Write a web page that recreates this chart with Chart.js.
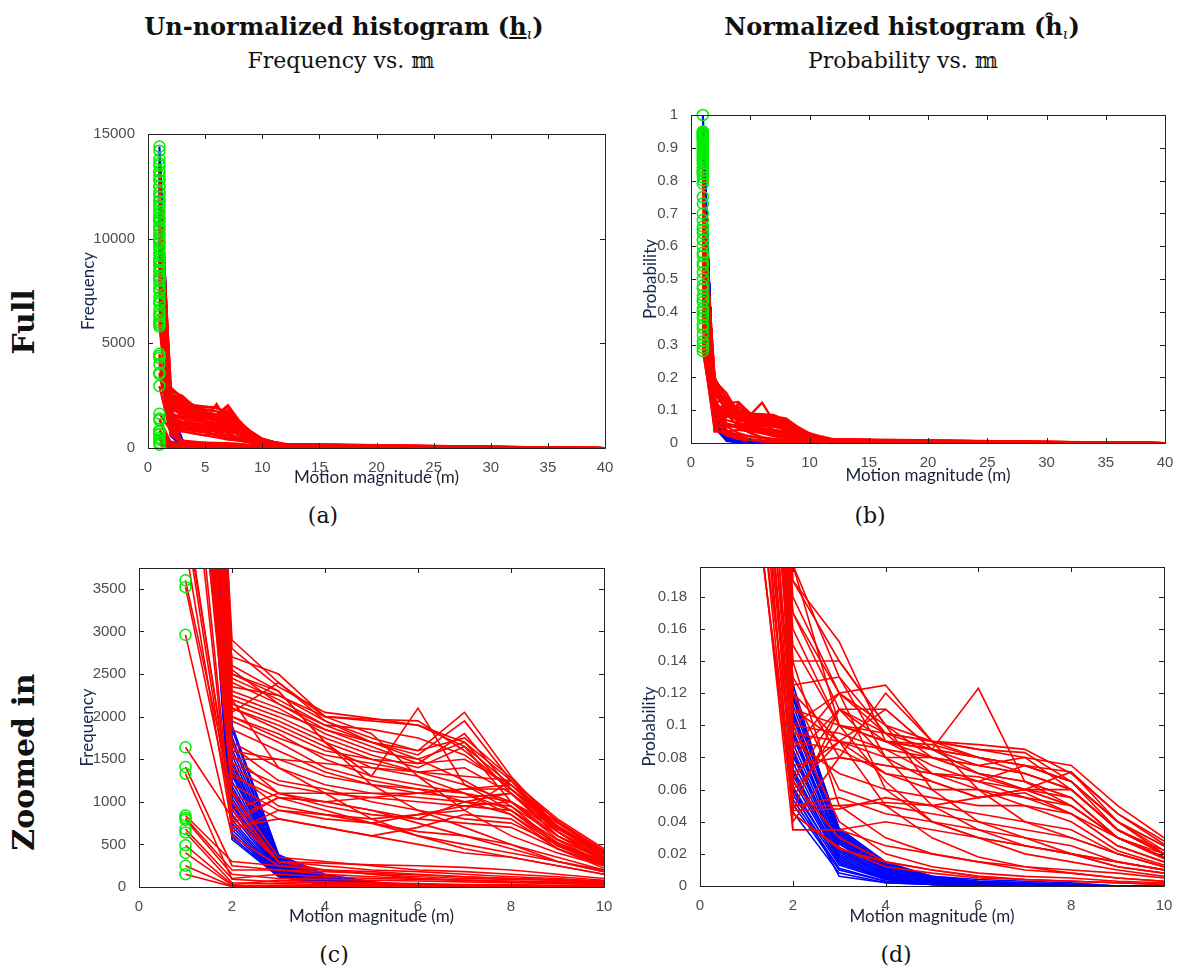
<!DOCTYPE html>
<html>
<head>
<meta charset="utf-8">
<script src="https://cdn.jsdelivr.net/npm/chart.js@4.4.1/dist/chart.umd.min.js"></script>
<style>
  body { margin: 0; background: #fff; }
  #page { position: relative; width: 1179px; height: 973px; overflow: hidden; background: #fff; }
  .lbl { position: absolute; transform: translate(-50%, -50%); white-space: nowrap;
         font-family: "DejaVu Serif", serif; color: #111; line-height: 1; }
  .head { font-weight: bold; font-size: 24px; }
  .head sub { font-size: 0.6em; vertical-align: -0.3em; line-height: 0; font-weight: normal; font-style: italic; }
  .sub { font-size: 22px; }
  .cap { font-size: 22px; }
  .row { font-weight: bold; font-size: 30px; transform: translate(-50%, -50%) rotate(-90deg); }
  canvas { position: absolute; }
</style>
</head>
<body>
<div id="page">
  <div class="lbl head" style="left:344px; top:27px">Un-normalized histogram (<u>h</u><sub>ι</sub>)</div>
  <div class="lbl sub" style="left:341px; top:61px">Frequency vs. 𝕞</div>
  <div class="lbl head" style="left:902px; top:27px">Normalized histogram (ĥ<sub>ι</sub>)</div>
  <div class="lbl sub" style="left:903px; top:61px">Probability vs. 𝕞</div>
  <div class="lbl row" style="left:24px; top:322px">Full</div>
  <div class="lbl row" style="left:24px; top:762px">Zoomed in</div>
  <div class="lbl cap" style="left:323px; top:516px">(a)</div>
  <div class="lbl cap" style="left:870px; top:516px">(b)</div>
  <div class="lbl cap" style="left:334px; top:955px">(c)</div>
  <div class="lbl cap" style="left:896px; top:955px">(d)</div>
  <canvas id="chartA"></canvas>
  <canvas id="chartB"></canvas>
  <canvas id="chartC"></canvas>
  <canvas id="chartD"></canvas>
</div>
<script>
// histogram bins (motion magnitude); last bin closes the tail at zero
const bins = [1, 2, 3, 4, 5, 6, 7, 8, 9, 10, 11, 12, 40];

// tick values for each axis
const magTicksFull = [0, 5, 10, 15, 20, 25, 30, 35, 40];
const magTicksZoom = [0, 2, 4, 6, 8, 10];
const freqTicksFull = [0, 5000, 10000, 15000];
const freqTicksZoom = [0, 500, 1000, 1500, 2000, 2500, 3000, 3500];
const probTicksFull = [0, 0.1, 0.2, 0.3, 0.4, 0.5, 0.6, 0.7, 0.8, 0.9, 1];
const probTicksZoom = [0, 0.02, 0.04, 0.06, 0.08, 0.1, 0.12, 0.14, 0.16, 0.18];

// un-normalized histograms, one row per video
const freqRed = [
  [13200, 2800, 2350, 2050, 1980, 1900, 1650, 1200, 780, 430, 290, 190, 0],
  [12800, 2900, 2400, 2000, 1950, 1900, 1700, 1250, 800, 450, 300, 200, 0],
  [12500, 2550, 2150, 1900, 1850, 1750, 1550, 1150, 720, 400, 270, 170, 0],
  [12200, 2600, 2300, 1700, 1300, 2100, 1200, 1000, 700, 420, 280, 180, 0],
  [11800, 2500, 2250, 1950, 1750, 1600, 2050, 1300, 700, 400, 260, 160, 0],
  [11600, 2250, 2050, 1850, 1700, 1600, 1750, 1280, 760, 420, 260, 160, 0],
  [11300, 2450, 2200, 1900, 1700, 1550, 1950, 1250, 680, 380, 250, 150, 0],
  [11000, 2350, 2250, 2000, 1970, 1950, 1600, 1150, 700, 400, 250, 150, 0],
  [10900, 2400, 2150, 1850, 1650, 1450, 1800, 1150, 650, 360, 240, 140, 0],
  [10600, 2300, 2100, 1800, 1600, 1500, 1700, 1100, 600, 340, 220, 130, 0],
  [10400, 2100, 1850, 1600, 1500, 1450, 1500, 1200, 700, 380, 230, 140, 0],
  [10200, 2200, 2000, 1750, 1550, 1400, 1650, 1000, 560, 320, 200, 120, 0],
  [9900, 2150, 1950, 1700, 1500, 1350, 1200, 900, 520, 300, 190, 110, 0],
  [9800, 2000, 1750, 1550, 1450, 1350, 1400, 1100, 650, 350, 210, 130, 0],
  [9600, 2100, 1900, 1650, 1400, 1300, 1100, 850, 500, 280, 180, 100, 0],
  [9300, 2050, 2400, 1950, 1700, 1500, 1250, 950, 600, 350, 220, 140, 0],
  [9000, 2000, 1800, 1500, 1300, 1200, 1100, 900, 480, 260, 170, 100, 0],
  [8900, 1850, 1600, 1350, 1200, 1100, 1150, 1150, 750, 400, 240, 130, 0],
  [8700, 1950, 1700, 1400, 1250, 1150, 1000, 850, 450, 250, 160, 90, 0],
  [8400, 1600, 1500, 1450, 1400, 1350, 1300, 1250, 700, 330, 210, 120, 0],
  [8200, 1700, 1400, 1200, 1100, 1050, 1000, 1100, 700, 380, 220, 120, 0],
  [8100, 1500, 1500, 1300, 1200, 1150, 1100, 1000, 650, 300, 200, 110, 0],
  [7800, 1450, 1200, 1100, 1100, 1100, 1050, 1100, 600, 300, 190, 100, 0],
  [7600, 1650, 1250, 1150, 1000, 900, 800, 750, 500, 300, 180, 100, 0],
  [7500, 1400, 1100, 1100, 1050, 1000, 950, 900, 550, 280, 170, 90, 0],
  [7200, 1300, 1050, 1000, 900, 800, 1000, 950, 500, 260, 160, 80, 0],
  [7000, 1550, 1100, 950, 850, 800, 750, 700, 450, 260, 160, 90, 0],
  [6900, 1200, 900, 800, 750, 850, 900, 1250, 650, 300, 180, 90, 0],
  [6600, 1100, 800, 700, 600, 700, 850, 800, 450, 220, 140, 70, 0],
  [6400, 1350, 950, 850, 750, 650, 600, 500, 350, 200, 120, 60, 0],
  [6300, 2700, 2500, 2000, 1800, 1300, 900, 600, 400, 250, 160, 90, 0],
  [6100, 750, 1050, 1000, 1050, 1100, 1150, 1200, 700, 350, 210, 110, 0],
  [6000, 2500, 2300, 1700, 1200, 900, 700, 500, 300, 180, 120, 60, 0],
  [5900, 2200, 1400, 1100, 800, 600, 450, 350, 250, 150, 100, 50, 0],
  [5800, 650, 900, 850, 800, 850, 950, 1000, 600, 330, 200, 100, 0],
  [4500, 900, 1100, 1000, 900, 750, 600, 450, 300, 200, 120, 60, 0],
  [4400, 1000, 300, 280, 260, 250, 230, 200, 150, 100, 60, 30, 0],
  [4300, 800, 1050, 900, 750, 600, 500, 400, 300, 180, 110, 50, 0],
  [4000, 700, 800, 700, 600, 500, 400, 350, 250, 150, 90, 40, 0],
  [3600, 1100, 350, 300, 250, 200, 180, 150, 120, 80, 50, 30, 0],
  [3520, 900, 300, 250, 200, 180, 150, 120, 100, 60, 40, 20, 0],
  [2960, 600, 250, 200, 150, 120, 100, 90, 80, 50, 30, 20, 0],
  [1640, 820, 300, 200, 150, 100, 80, 60, 50, 40, 20, 10, 0],
  [1410, 250, 200, 150, 120, 100, 80, 60, 50, 30, 20, 10, 0],
  [1330, 90, 60, 50, 40, 30, 20, 20, 10, 10, 5, 0, 0],
  [840, 300, 250, 200, 180, 150, 120, 100, 80, 60, 40, 20, 0],
  [810, 200, 200, 180, 160, 140, 120, 100, 90, 70, 40, 20, 0],
  [790, 150, 100, 90, 80, 70, 60, 50, 40, 30, 20, 10, 0],
  [680, 100, 150, 120, 100, 90, 80, 70, 60, 50, 30, 10, 0],
  [640, 50, 40, 30, 30, 20, 20, 10, 10, 10, 5, 0, 0],
  [490, 30, 80, 60, 50, 40, 30, 30, 20, 20, 10, 0, 0],
  [400, 20, 20, 20, 10, 10, 10, 10, 10, 5, 0, 0, 0],
  [250, 10, 10, 10, 5, 5, 5, 0, 0, 0, 0, 0, 0],
  [150, 5, 5, 0, 0, 0, 0, 0, 0, 0, 0, 0, 0]
];

const freqBlue = [
  [14400, 1900, 380, 150, 60, 20, 5, 0, 0, 0, 0, 0, 0],
  [14200, 1850, 370, 140, 55, 15, 0, 0, 0, 0, 0, 0, 0],
  [13800, 1760, 355, 120, 45, 10, 0, 0, 0, 0, 0, 0, 0],
  [13600, 1700, 345, 115, 40, 10, 0, 0, 0, 0, 0, 0, 0],
  [13500, 1620, 330, 105, 35, 10, 0, 0, 0, 0, 0, 0, 0],
  [13200, 1550, 320, 100, 35, 5, 0, 0, 0, 0, 0, 0, 0],
  [13000, 1480, 310, 90, 30, 5, 0, 0, 0, 0, 0, 0, 0],
  [12800, 1440, 290, 95, 30, 5, 0, 0, 0, 0, 0, 0, 0],
  [12500, 1390, 270, 85, 25, 5, 0, 0, 0, 0, 0, 0, 0],
  [12200, 1350, 265, 80, 25, 5, 0, 0, 0, 0, 0, 0, 0],
  [12000, 1310, 255, 70, 20, 0, 0, 0, 0, 0, 0, 0, 0],
  [11800, 1240, 250, 70, 20, 0, 0, 0, 0, 0, 0, 0, 0],
  [11500, 1180, 240, 65, 20, 0, 0, 0, 0, 0, 0, 0, 0],
  [11200, 1140, 230, 60, 15, 0, 0, 0, 0, 0, 0, 0, 0],
  [11000, 1090, 215, 55, 15, 0, 0, 0, 0, 0, 0, 0, 0],
  [10800, 1040, 210, 55, 15, 0, 0, 0, 0, 0, 0, 0, 0],
  [10500, 980, 205, 50, 10, 0, 0, 0, 0, 0, 0, 0, 0],
  [10200, 950, 190, 45, 10, 0, 0, 0, 0, 0, 0, 0, 0],
  [10000, 910, 175, 45, 10, 0, 0, 0, 0, 0, 0, 0, 0],
  [9800, 850, 170, 40, 10, 0, 0, 0, 0, 0, 0, 0, 0],
  [9500, 790, 160, 40, 5, 0, 0, 0, 0, 0, 0, 0, 0],
  [9200, 750, 150, 35, 5, 0, 0, 0, 0, 0, 0, 0, 0],
  [9000, 710, 140, 35, 5, 0, 0, 0, 0, 0, 0, 0, 0],
  [8700, 670, 135, 30, 5, 0, 0, 0, 0, 0, 0, 0, 0],
  [8500, 630, 130, 30, 0, 0, 0, 0, 0, 0, 0, 0, 0],
  [8200, 590, 125, 25, 0, 0, 0, 0, 0, 0, 0, 0, 0],
  [8000, 560, 120, 25, 0, 0, 0, 0, 0, 0, 0, 0, 0]
];

// normalized histograms (probability per bin)
const probRed = [
  [0.30, 0.035, 0.035, 0.025, 0.02, 0.015, 0.01, 0.008, 0.005, 0.003, 0.002, 0.001, 0],
  [0.29, 0.047, 0.048, 0.055, 0.05, 0.045, 0.04, 0.035, 0.02, 0.012, 0.007, 0.004, 0],
  [0.33, 0.045, 0.024, 0.012, 0.008, 0.005, 0.004, 0.003, 0.002, 0.001, 0, 0, 0],
  [0.28, 0.06, 0.09, 0.11, 0.085, 0.07, 0.065, 0.055, 0.03, 0.018, 0.011, 0.006, 0],
  [0.36, 0.05, 0.055, 0.045, 0.04, 0.035, 0.03, 0.025, 0.015, 0.01, 0.006, 0.003, 0],
  [0.31, 0.075, 0.08, 0.075, 0.07, 0.065, 0.075, 0.065, 0.04, 0.02, 0.012, 0.007, 0],
  [0.38, 0.065, 0.03, 0.015, 0.01, 0.006, 0.004, 0.003, 0.002, 0.001, 0, 0, 0],
  [0.41, 0.07, 0.09, 0.07, 0.065, 0.055, 0.06, 0.06, 0.035, 0.02, 0.01, 0.006, 0],
  [0.35, 0.09, 0.085, 0.07, 0.06, 0.06, 0.055, 0.05, 0.03, 0.018, 0.01, 0.006, 0],
  [0.43, 0.08, 0.11, 0.095, 0.085, 0.075, 0.07, 0.06, 0.035, 0.02, 0.012, 0.007, 0],
  [0.40, 0.10, 0.04, 0.02, 0.012, 0.008, 0.006, 0.005, 0.003, 0.002, 0.001, 0, 0],
  [0.45, 0.095, 0.09, 0.08, 0.065, 0.055, 0.058, 0.045, 0.025, 0.015, 0.009, 0.005, 0],
  [0.47, 0.11, 0.09, 0.05, 0.03, 0.018, 0.012, 0.008, 0.005, 0.003, 0.002, 0.001, 0],
  [0.48, 0.085, 0.12, 0.10, 0.08, 0.07, 0.06, 0.05, 0.03, 0.018, 0.01, 0.006, 0],
  [0.50, 0.12, 0.06, 0.05, 0.045, 0.04, 0.035, 0.03, 0.02, 0.012, 0.007, 0.004, 0],
  [0.52, 0.13, 0.08, 0.12, 0.09, 0.06, 0.04, 0.03, 0.02, 0.012, 0.008, 0.004, 0],
  [0.55, 0.10, 0.095, 0.085, 0.07, 0.06, 0.05, 0.04, 0.022, 0.013, 0.008, 0.005, 0],
  [0.54, 0.14, 0.05, 0.03, 0.02, 0.015, 0.012, 0.01, 0.008, 0.005, 0.003, 0.002, 0],
  [0.58, 0.15, 0.10, 0.065, 0.04, 0.03, 0.025, 0.02, 0.015, 0.01, 0.006, 0.003, 0],
  [0.60, 0.12, 0.09, 0.085, 0.08, 0.07, 0.065, 0.05, 0.03, 0.017, 0.01, 0.006, 0],
  [0.62, 0.16, 0.10, 0.095, 0.09, 0.085, 0.083, 0.065, 0.035, 0.02, 0.012, 0.008, 0],
  [0.62, 0.09, 0.07, 0.06, 0.055, 0.05, 0.05, 0.045, 0.03, 0.018, 0.01, 0.005, 0],
  [0.64, 0.17, 0.11, 0.11, 0.085, 0.123, 0.065, 0.055, 0.03, 0.018, 0.011, 0.007, 0],
  [0.66, 0.11, 0.10, 0.09, 0.075, 0.065, 0.055, 0.045, 0.025, 0.015, 0.009, 0.005, 0],
  [0.68, 0.18, 0.12, 0.125, 0.09, 0.08, 0.07, 0.06, 0.035, 0.02, 0.012, 0.008, 0],
  [0.70, 0.19, 0.152, 0.09, 0.08, 0.075, 0.07, 0.06, 0.035, 0.022, 0.014, 0.009, 0],
  [0.73, 0.20, 0.10, 0.09, 0.085, 0.08, 0.075, 0.065, 0.04, 0.025, 0.015, 0.01, 0],
  [0.79, 0.065, 0.11, 0.08, 0.08, 0.075, 0.08, 0.06, 0.035, 0.02, 0.012, 0.007, 0],
  [0.80, 0.10, 0.12, 0.095, 0.07, 0.065, 0.06, 0.055, 0.03, 0.018, 0.011, 0.006, 0],
  [0.81, 0.047, 0.11, 0.09, 0.088, 0.08, 0.075, 0.071, 0.04, 0.022, 0.013, 0.008, 0],
  [0.82, 0.14, 0.14, 0.10, 0.06, 0.04, 0.03, 0.02, 0.015, 0.01, 0.006, 0.004, 0],
  [0.83, 0.045, 0.023, 0.015, 0.01, 0.006, 0.004, 0.003, 0.002, 0.001, 0, 0, 0],
  [0.84, 0.055, 0.10, 0.09, 0.085, 0.08, 0.075, 0.065, 0.04, 0.025, 0.015, 0.01, 0],
  [0.85, 0.035, 0.035, 0.04, 0.035, 0.03, 0.025, 0.02, 0.012, 0.008, 0.005, 0.003, 0],
  [0.83, 0.125, 0.13, 0.08, 0.05, 0.035, 0.025, 0.02, 0.012, 0.008, 0.005, 0.003, 0],
  [0.57, 0.17, 0.12, 0.06, 0.04, 0.03, 0.02, 0.015, 0.01, 0.006, 0.004, 0.002, 0],
  [0.65, 0.20, 0.13, 0.095, 0.09, 0.088, 0.085, 0.07, 0.045, 0.028, 0.017, 0.01, 0],
  [0.75, 0.19, 0.14, 0.10, 0.09, 0.085, 0.08, 0.075, 0.05, 0.03, 0.02, 0.012, 0],
  [0.44, 0.05, 0.05, 0.052, 0.05, 0.055, 0.06, 0.05, 0.03, 0.02, 0.012, 0.007, 0],
  [0.39, 0.04, 0.08, 0.075, 0.07, 0.068, 0.06, 0.071, 0.045, 0.026, 0.016, 0.01, 0]
];

const probBlue = [
  [1.00, 0.046, 0.008, 0.002, 0.001, 0, 0, 0, 0, 0, 0, 0, 0],
  [0.95, 0.051, 0.010, 0.003, 0.001, 0, 0, 0, 0, 0, 0, 0, 0],
  [0.948, 0.054, 0.011, 0.003, 0.001, 0, 0, 0, 0, 0, 0, 0, 0],
  [0.945, 0.057, 0.013, 0.004, 0.001, 0, 0, 0, 0, 0, 0, 0, 0],
  [0.942, 0.060, 0.015, 0.004, 0.002, 0.001, 0, 0, 0, 0, 0, 0, 0],
  [0.94, 0.062, 0.014, 0.005, 0.002, 0.001, 0, 0, 0, 0, 0, 0, 0],
  [0.938, 0.066, 0.016, 0.005, 0.002, 0.001, 0, 0, 0, 0, 0, 0, 0],
  [0.935, 0.069, 0.017, 0.005, 0.002, 0.001, 0, 0, 0, 0, 0, 0, 0],
  [0.932, 0.071, 0.019, 0.006, 0.002, 0.001, 0, 0, 0, 0, 0, 0, 0],
  [0.93, 0.073, 0.018, 0.006, 0.002, 0.001, 0, 0, 0, 0, 0, 0, 0],
  [0.925, 0.077, 0.020, 0.007, 0.003, 0.001, 0, 0, 0, 0, 0, 0, 0],
  [0.92, 0.081, 0.021, 0.007, 0.003, 0.001, 0, 0, 0, 0, 0, 0, 0],
  [0.915, 0.083, 0.023, 0.008, 0.003, 0.002, 0.001, 0, 0, 0, 0, 0, 0],
  [0.91, 0.085, 0.022, 0.008, 0.003, 0.001, 0.001, 0.001, 0, 0, 0, 0, 0],
  [0.905, 0.089, 0.024, 0.009, 0.004, 0.002, 0.001, 0, 0, 0, 0, 0, 0],
  [0.90, 0.093, 0.026, 0.009, 0.003, 0.001, 0, 0, 0, 0, 0, 0, 0],
  [0.895, 0.095, 0.028, 0.010, 0.004, 0.002, 0.001, 0, 0, 0, 0, 0, 0],
  [0.89, 0.097, 0.027, 0.010, 0.004, 0.001, 0, 0, 0, 0, 0, 0, 0],
  [0.885, 0.101, 0.030, 0.011, 0.005, 0.002, 0.001, 0, 0, 0, 0, 0, 0],
  [0.88, 0.105, 0.029, 0.011, 0.004, 0.002, 0.001, 0, 0, 0, 0, 0, 0],
  [0.875, 0.107, 0.032, 0.012, 0.005, 0.003, 0.002, 0.001, 0, 0, 0, 0, 0],
  [0.87, 0.109, 0.031, 0.012, 0.005, 0.002, 0.001, 0, 0, 0, 0, 0, 0],
  [0.865, 0.113, 0.034, 0.013, 0.006, 0.003, 0.002, 0.001, 0, 0, 0, 0, 0],
  [0.86, 0.117, 0.033, 0.013, 0.005, 0.002, 0.001, 0, 0, 0, 0, 0, 0],
  [0.855, 0.119, 0.036, 0.015, 0.006, 0.004, 0.003, 0.002, 0, 0, 0, 0, 0],
  [0.84, 0.121, 0.035, 0.014, 0.006, 0.002, 0.001, 0, 0, 0, 0, 0, 0],
  [0.83, 0.126, 0.030, 0.010, 0.004, 0.001, 0, 0, 0, 0, 0, 0, 0],
  [0.82, 0.060, 0.006, 0.002, 0.001, 0, 0, 0, 0, 0, 0, 0, 0]
];

const PAD_T = 12, PAD_R = 22, PAD_B = 2;
const TITLE_SIZE = 17;
const TITLE_LH = Math.round(TITLE_SIZE * 1.2);

// closed box with inward ticks on all four sides
const boxFrame = {
  id: 'boxFrame',
  afterDatasetsDraw(chart) {
    const { ctx, chartArea: a, scales: { x, y } } = chart;
    const len = 5;
    ctx.save();
    ctx.strokeStyle = '#222';
    ctx.lineWidth = 1;
    ctx.beginPath();
    ctx.rect(Math.round(a.left) + 0.5, Math.round(a.top) + 0.5,
             Math.round(a.right - a.left), Math.round(a.bottom - a.top));
    x.ticks.forEach(t => {
      const px = Math.round(x.getPixelForValue(t.value)) + 0.5;
      ctx.moveTo(px, a.bottom); ctx.lineTo(px, a.bottom - len);
      ctx.moveTo(px, a.top); ctx.lineTo(px, a.top + len);
    });
    y.ticks.forEach(t => {
      const py = Math.round(y.getPixelForValue(t.value)) + 0.5;
      ctx.moveTo(a.left, py); ctx.lineTo(a.left + len, py);
      ctx.moveTo(a.right, py); ctx.lineTo(a.right - len, py);
    });
    ctx.stroke();
    ctx.restore();
  }
};

function lineSets(curves, color, width, order) {
  return curves.map(c => ({
    data: c.map((v, i) => ({ x: bins[i], y: v })),
    borderColor: color,
    borderWidth: width,
    pointRadius: 0,
    tension: 0,
    fill: false,
    order
  }));
}

function firstBinMarkers(curves, clip) {
  const set = {
    data: curves.map(c => ({ x: bins[0], y: c[0] })),
    showLine: false,
    pointRadius: 5.5,
    pointBorderWidth: 1.5,
    pointBorderColor: '#00ee00',
    pointBackgroundColor: 'rgba(0,0,0,0)',
    order: 0
  };
  if (clip !== undefined) set.clip = clip;
  return set;
}

const numLabel = v => String(+v.toFixed(4));
const fixedTicks = values => scale => { scale.ticks = values.map(v => ({ value: v })); };

function buildChart(id, box, spec) {
  const yW = Math.round(box.l - box.yTitleX + TITLE_LH / 2);
  const xH = Math.round(box.xTitleY - box.b + TITLE_LH / 2);
  const w = yW + (box.r - box.l) + PAD_R;
  const h = PAD_T + (box.b - box.t) + xH + PAD_B;
  const canvas = document.getElementById(id);
  canvas.width = w;
  canvas.height = h;
  canvas.style.width = w + 'px';
  canvas.style.height = h + 'px';
  canvas.style.left = (box.l - yW) + 'px';
  canvas.style.top = (box.t - PAD_T) + 'px';

  const tickFont = { family: '"Liberation Sans", Arial, sans-serif', size: 15 };
  const titleFont = { family: 'Lato, "Open Sans", sans-serif', size: TITLE_SIZE };

  return new Chart(canvas, {
    type: 'line',
    data: {
      datasets: [
        firstBinMarkers([...spec.red, ...spec.blue], spec.markerClip),
        ...lineSets(spec.red, '#ff0000', spec.lineWidth, 1),
        ...lineSets(spec.blue, '#0000ff', spec.lineWidth, 2)
      ]
    },
    options: {
      responsive: false,
      animation: false,
      events: [],
      layout: { padding: { top: PAD_T, right: PAD_R, bottom: PAD_B, left: 0 } },
      plugins: { legend: { display: false }, tooltip: { enabled: false } },
      scales: {
        x: {
          type: 'linear',
          min: 0,
          max: spec.xTicks[spec.xTicks.length - 1],
          grid: { display: false },
          border: { display: false },
          afterBuildTicks: fixedTicks(spec.xTicks),
          ticks: { autoSkip: false, maxRotation: 0, padding: 3,
                   color: '#4d4d4d', font: tickFont, callback: numLabel },
          title: { display: true, text: 'Motion magnitude (m)', color: '#1b2236',
                   font: titleFont, padding: 0 },
          afterFit: s => { s.height = xH; }
        },
        y: {
          type: 'linear',
          min: 0,
          max: spec.yMax,
          grid: { display: false },
          border: { display: false },
          afterBuildTicks: fixedTicks(spec.yTicks),
          ticks: { autoSkip: false, padding: 5,
                   color: '#4d4d4d', font: tickFont, callback: numLabel },
          title: { display: true, text: spec.yTitle, color: '#16284a',
                   font: titleFont, padding: 0 },
          afterFit: s => { s.width = yW; }
        }
      }
    },
    plugins: [boxFrame]
  });
}

buildChart('chartA', { l: 148, t: 132, r: 605, b: 448, yTitleX: 88, xTitleY: 478 }, {
  red: freqRed, blue: freqBlue, xTicks: magTicksFull, yTicks: freqTicksFull,
  yMax: 15000, yTitle: 'Frequency', lineWidth: 2.2, markerClip: 8
});
buildChart('chartB', { l: 691, t: 113, r: 1165, b: 443, yTitleX: 650, xTitleY: 476 }, {
  red: probRed, blue: probBlue, xTicks: magTicksFull, yTicks: probTicksFull,
  yMax: 1, yTitle: 'Probability', lineWidth: 2.2, markerClip: 8
});
buildChart('chartC', { l: 139, t: 566, r: 604, b: 887, yTitleX: 87, xTitleY: 917 }, {
  red: freqRed, blue: freqBlue, xTicks: magTicksZoom, yTicks: freqTicksZoom,
  yMax: 3745, yTitle: 'Frequency', lineWidth: 1.6
});
buildChart('chartD', { l: 700, t: 565, r: 1164, b: 886, yTitleX: 649, xTitleY: 917 }, {
  red: probRed, blue: probBlue, xTicks: magTicksZoom, yTicks: probTicksZoom,
  yMax: 0.1985, yTitle: 'Probability', lineWidth: 1.6
});
</script>
</body>
</html>
